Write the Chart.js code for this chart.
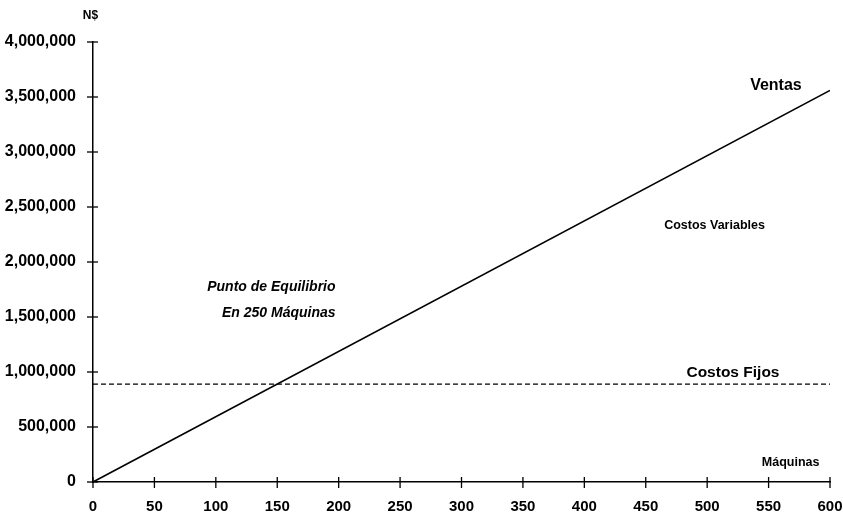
<!DOCTYPE html>
<html>
<head>
<meta charset="utf-8">
<script src="https://cdn.jsdelivr.net/npm/chart.js@4"></script>
<style>
  html, body { margin: 0; padding: 0; background: #fff; }
  #wrap { width: 843px; height: 514px; }
</style>
</head>
<body>
<div id="wrap"><canvas id="breakEven"></canvas></div>
<script>
// Data
const units = [0, 600];                 // Máquinas
const ventas = [0, 3560000];            // Ventas line end points
const costosFijos = [890000, 890000];   // Costos Fijos (flat)
const xTicks = [0, 50, 100, 150, 200, 250, 300, 350, 400, 450, 500, 550, 600];
const yTicks = [0, 500000, 1000000, 1500000, 2000000, 2500000, 3000000, 3500000, 4000000];

// Text labels placed in data coordinates
const notes = [
  { text: 'N$', x: -2, y: 4240000, font: 'bold 12px "Liberation Sans"', align: 'center' },
  { text: 'Ventas', x: 556, y: 3600000, font: 'bold 16px "Liberation Sans"', align: 'center' },
  { text: 'Costos Variables', x: 506, y: 2333000, font: 'bold 12.5px "Liberation Sans"', align: 'center' },
  { text: 'Punto de Equilibrio', x: 93, y: 1770000, font: 'italic bold 14px "Liberation Sans"', align: 'left' },
  { text: 'En 250 Máquinas', x: 105, y: 1535000, font: 'italic bold 14px "Liberation Sans"', align: 'left' },
  { text: 'Costos Fijos', x: 521, y: 990000, font: 'bold 15.5px "Liberation Sans"', align: 'center' },
  { text: 'Máquinas', x: 568, y: 180000, font: 'bold 12.5px "Liberation Sans"', align: 'center' }
];

const toPoints = (xs, ys) => xs.map((x, i) => ({ x: x, y: ys[i] }));

// crossing tick marks + text notes
const extras = {
  id: 'extras',
  afterDraw(chart) {
    const c = chart.ctx;
    const xs = chart.scales.x, ys = chart.scales.y;
    const x0 = xs.getPixelForValue(0), y0 = ys.getPixelForValue(0);
    c.save();
    c.strokeStyle = '#000';
    c.lineWidth = 1.3;
    xTicks.forEach(v => {
      const px = xs.getPixelForValue(v);
      c.beginPath(); c.moveTo(px, y0 - 5); c.lineTo(px, y0 + 6); c.stroke();
    });
    yTicks.forEach(v => {
      const py = ys.getPixelForValue(v);
      c.beginPath(); c.moveTo(x0 - 6, py); c.lineTo(x0 + 5, py); c.stroke();
    });
    c.fillStyle = '#000';
    c.textBaseline = 'middle';
    notes.forEach(n => {
      c.font = n.font;
      c.textAlign = n.align;
      c.fillText(n.text, xs.getPixelForValue(n.x), ys.getPixelForValue(n.y));
    });
    c.restore();
  }
};

const ctx = document.getElementById('breakEven').getContext('2d');

new Chart(ctx, {
  type: 'scatter',
  data: {
    datasets: [
      {
        label: 'Ventas',
        data: toPoints(units, ventas),
        showLine: true,
        borderColor: '#000',
        borderWidth: 1.6,
        pointRadius: 0
      },
      {
        label: 'Costos Fijos',
        data: toPoints(units, costosFijos),
        showLine: true,
        borderColor: '#000',
        borderWidth: 1.4,
        borderDash: [5, 3],
        pointRadius: 0
      }
    ]
  },
  options: {
    responsive: true,
    maintainAspectRatio: false,
    animation: false,
    layout: { padding: { top: 42, right: 13, left: 0, bottom: 0 } },
    plugins: {
      legend: { display: false },
      tooltip: { enabled: false }
    },
    scales: {
      x: {
        type: 'linear',
        min: 0,
        max: 600,
        afterBuildTicks: (s) => { s.ticks = xTicks.map(v => ({ value: v })); },
        grid: { display: false },
        border: { color: '#000', width: 1.5 },
        ticks: {
          color: '#000',
          padding: 8,
          font: { family: 'Liberation Sans', size: 15, weight: 'bold' },
          maxRotation: 0
        },
        afterFit: (s) => { s.height = 32; s.paddingRight = 0; s.paddingLeft = 0; }
      },
      y: {
        type: 'linear',
        min: 0,
        max: 4000000,
        afterBuildTicks: (s) => { s.ticks = yTicks.map(v => ({ value: v })); },
        grid: { display: false },
        border: { color: '#000', width: 1.5 },
        ticks: {
          color: '#000',
          padding: 9,
          font: { family: 'Liberation Sans', size: 16, weight: 'bold' },
          callback: (v) => v.toLocaleString('en-US')
        },
        afterFit: (s) => { s.width = 93; }
      }
    }
  },
  plugins: [extras]
});
</script>
</body>
</html>
